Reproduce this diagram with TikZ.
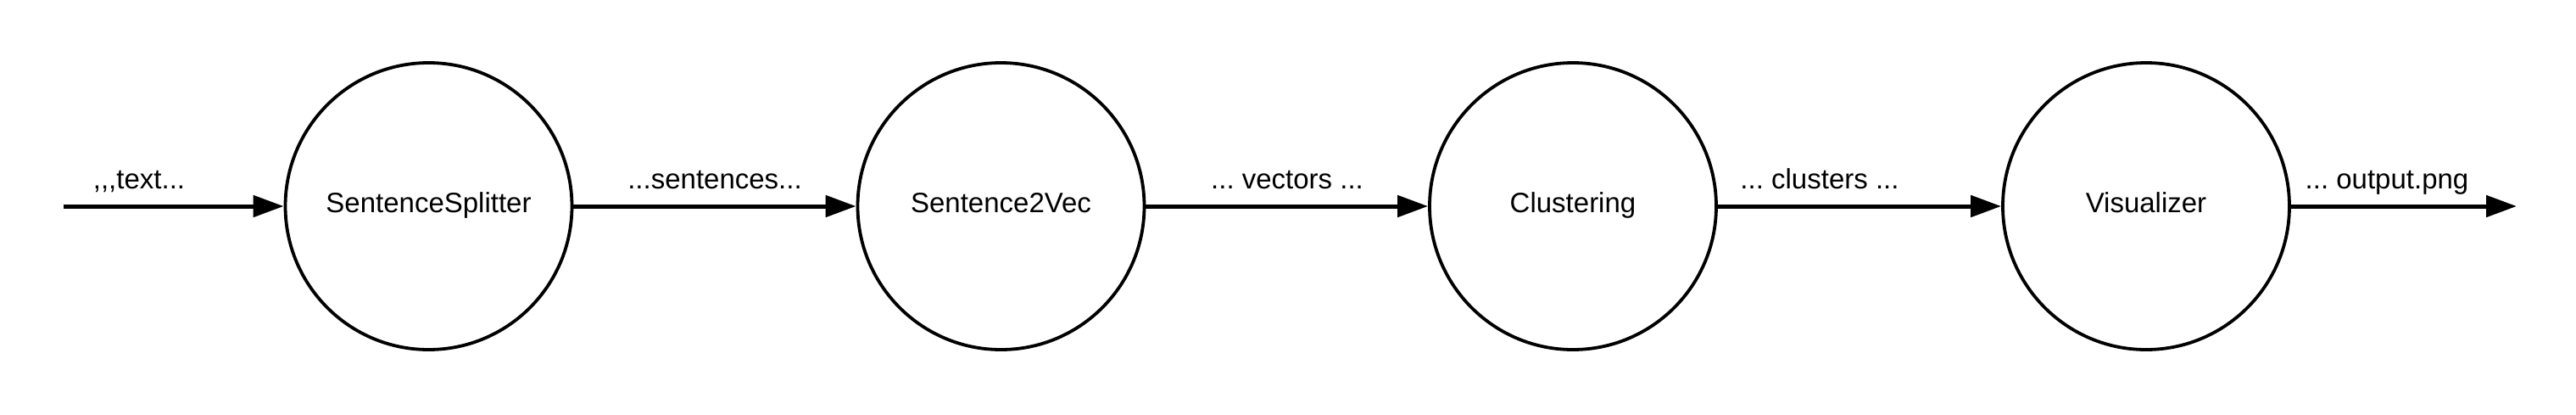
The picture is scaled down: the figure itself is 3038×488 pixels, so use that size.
\documentclass[tikz,border=0pt]{standalone}
\usepackage{fontspec}
\setmainfont{Liberation Sans}
\usetikzlibrary{arrows.meta}
\begin{document}
\frenchspacing
\begin{tikzpicture}[x=0.5pt,y=-0.5pt,
  proc/.style={circle,draw,line width=1.9pt,minimum size=169pt,inner sep=0pt,font=\fontsize{16.5pt}{19pt}\selectfont},
  flow/.style={line width=2.5pt,-{Triangle[length=18pt,width=12.5pt]}},
  lbl/.style={anchor=base,inner sep=0pt,font=\fontsize{16.5pt}{19pt}\selectfont}]
\useasboundingbox (0,0) rectangle (3038,488);
\node[proc] (a) at (505.5,243) {};
\node[proc] (b) at (1180.5,243) {};
\node[proc] (c) at (1855,243) {};
\node[proc] (d) at (2531,243) {};
\node[lbl] (ta) at (505.5,250) {SentenceSplitter};
\node[lbl] (tb) at (1180.5,250) {Sentence2Vec};
\node[lbl] (tc) at (1855,250) {Clustering};
\node[lbl] (td) at (2531,250) {Visualizer};
\coordinate (in) at (75,243);
\coordinate (out) at (2968,243);
\draw[flow] (in) -- (a.west);
\draw[flow] (a.east) -- (b.west);
\draw[flow] (b.east) -- (c.west);
\draw[flow] (c.east) -- (d.west);
\draw[flow] (d.east) -- (out);
\node[lbl] (l0) at (164,222) {,\kern0pt,\kern0pt,text...};
\node[lbl] (l1) at (843,222) {...sentences...};
\node[lbl] (l2) at (1518,222) {... vectors ...};
\node[lbl] (l3) at (2146,222) {... clusters ...};
\node[lbl] (l4) at (2815,222) {... output.png};
\end{tikzpicture}
\end{document}
